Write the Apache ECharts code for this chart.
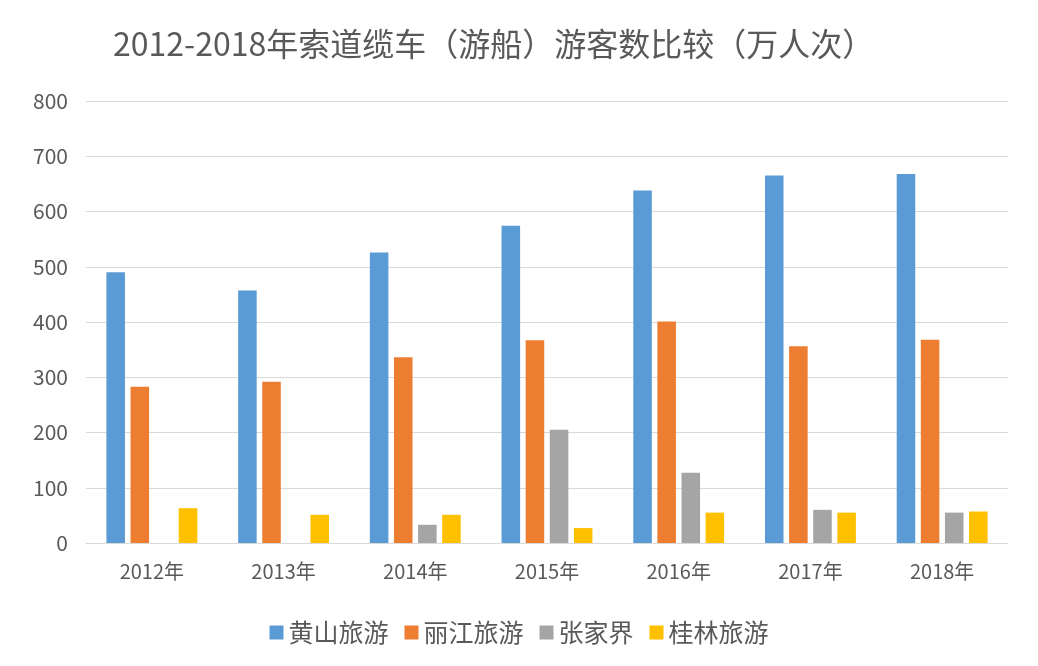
<!DOCTYPE html>
<html style="height: 100%">
   <head>
       <meta charset="utf-8">
   </head>
   <body style="height: 100%; margin: 0; background: #fff">
       <div id="container" style="width: 1038px; height: 666px"></div>
       <script type="text/javascript" src="https://cdn.jsdelivr.net/npm/echarts@6/dist/echarts.min.js"></script>
       <script type="text/javascript">
var years = ['2012年', '2013年', '2014年', '2015年', '2016年', '2017年', '2018年'];
var huangshan = [490, 457, 526, 574, 638, 665, 668];
var lijiang = [283, 292, 336, 367, 401, 356, 368];
var zhangjiajie = ['-', '-', 33, 205, 127, 60, 55];
var guilin = [63, 51, 51, 27, 55, 55, 57];
var names = ['黄山旅游', '丽江旅游', '张家界', '桂林旅游'];
var colors = ['#5B9BD5', '#ED7D31', '#A5A5A5', '#FFC000'];

var dom = document.getElementById("container");
var myChart = echarts.init(dom);
var font = '"Noto Sans CJK SC", "Noto Sans", sans-serif';

function bar(i, data) {
    return {
        name: names[i],
        type: 'bar',
        data: data,
        barGap: '30%',
        barCategoryGap: '31%',
        itemStyle: {color: colors[i]}
    };
}

var option = {
    animation: false,
    title: {
        text: '2012-2018年索道缆车（游船）游客数比较（万人次）',
        left: 108,
        top: 23,
        textStyle: {
            fontFamily: font,
            fontSize: 32,
            fontWeight: 'normal',
            color: '#595959'
        }
    },
    legend: {
        data: names,
        bottom: 16,
        left: 'center',
        itemWidth: 14,
        itemHeight: 14,
        itemGap: 16,
        icon: 'rect',
        textStyle: {fontFamily: font, fontSize: 25, color: '#595959'}
    },
    grid: {
        left: 86,
        right: 30,
        top: 101,
        bottom: 123
    },
    xAxis: {
        type: 'category',
        data: years,
        axisTick: {show: false},
        axisLine: {lineStyle: {color: '#D9D9D9'}},
        axisLabel: {fontFamily: font, fontSize: 20, color: '#595959', margin: 18}
    },
    yAxis: {
        type: 'value',
        min: 0,
        max: 800,
        interval: 100,
        axisLine: {show: false},
        axisTick: {show: false},
        axisLabel: {fontFamily: font, fontSize: 21, color: '#595959', margin: 18},
        splitLine: {lineStyle: {color: '#D9D9D9'}}
    },
    series: [
        bar(0, huangshan),
        bar(1, lijiang),
        bar(2, zhangjiajie),
        bar(3, guilin)
    ]
};

myChart.setOption(option, true);
       </script>
   </body>
</html>
